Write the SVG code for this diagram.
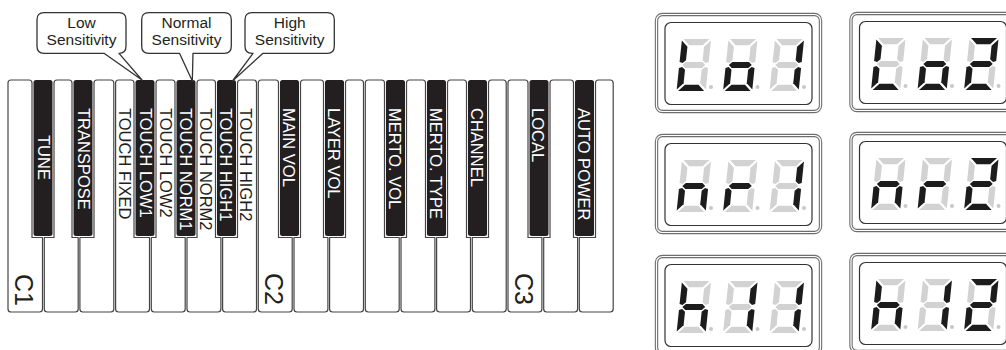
<svg xmlns="http://www.w3.org/2000/svg" xmlns:xlink="http://www.w3.org/1999/xlink" width="1006" height="350" viewBox="0 0 1006 350">
<style>
.wk{fill:#fff;stroke:#444;stroke-width:1.2;stroke-linejoin:round}
.bk{fill:#231f20}
.t{font-family:"Liberation Sans",Arial,Helvetica,sans-serif}
.bt{font-size:16.5px;fill:#fff}
.wt{font-size:16.5px;fill:#231f20}
.oct{font-size:25px;fill:#231f20}
.bub{fill:#fff;stroke:#333;stroke-width:1.3;stroke-linejoin:round}
.bubt{font-size:15.5px;text-anchor:middle;fill:#231f20}
.fo{fill:#fff;stroke:#6e6e6e;stroke-width:3.4}
.fo2{fill:none;stroke:#fff;stroke-width:1.2}
.fi{fill:none;stroke:#333;stroke-width:1.2}
.on{fill:#1c1c1c}
.off{fill:#d2d2d2}
.dp{fill:#c8c8c8}
</style>
<defs>
<path id="sa" d="M1.5,0 H26.5 L20.5,6 H7.5 Z"/>
<path id="sb" d="M28,1.5 L22,7.5 V20.5 L25,23 L28,22 Z"/>
<path id="sc" d="M28,48.5 L22,42.5 V29.5 L25,27 L28,28 Z"/>
<path id="sd" d="M1.5,50 H26.5 L20.5,44 H7.5 Z"/>
<path id="se" d="M0,48.5 L6,42.5 V29.5 L3,27 L0,28 Z"/>
<path id="sf" d="M0,1.5 L6,7.5 V20.5 L3,23 L0,22 Z"/>
<path id="sg" d="M3,25 L6,22 H22 L25,25 L22,28 H6 Z"/>
<g id="chL"><use href="#sa" class="off"/><use href="#sb" class="off"/><use href="#sc" class="off"/><use href="#sd" class="on"/><use href="#se" class="on"/><use href="#sf" class="on"/><use href="#sg" class="off"/></g>
<g id="cho"><use href="#sa" class="off"/><use href="#sb" class="off"/><use href="#sc" class="on"/><use href="#sd" class="on"/><use href="#se" class="on"/><use href="#sf" class="off"/><use href="#sg" class="on"/></g>
<g id="ch1"><use href="#sa" class="off"/><use href="#sb" class="on"/><use href="#sc" class="on"/><use href="#sd" class="off"/><use href="#se" class="off"/><use href="#sf" class="off"/><use href="#sg" class="off"/></g>
<g id="ch2"><use href="#sa" class="on"/><use href="#sb" class="on"/><use href="#sc" class="off"/><use href="#sd" class="on"/><use href="#se" class="on"/><use href="#sf" class="off"/><use href="#sg" class="on"/></g>
<g id="chn"><use href="#sa" class="off"/><use href="#sb" class="off"/><use href="#sc" class="on"/><use href="#sd" class="off"/><use href="#se" class="on"/><use href="#sf" class="off"/><use href="#sg" class="on"/></g>
<g id="chr"><use href="#sa" class="off"/><use href="#sb" class="off"/><use href="#sc" class="off"/><use href="#sd" class="off"/><use href="#se" class="on"/><use href="#sf" class="off"/><use href="#sg" class="on"/></g>
<g id="chh"><use href="#sa" class="off"/><use href="#sb" class="off"/><use href="#sc" class="on"/><use href="#sd" class="off"/><use href="#se" class="on"/><use href="#sf" class="on"/><use href="#sg" class="on"/></g>
<g id="frame">
<rect class="fo" x="1.5" y="1.5" width="164" height="97" rx="6"/>
<rect class="fo2" x="1.5" y="1.5" width="164" height="97" rx="6"/>
<rect class="fi" x="10" y="9.5" width="147" height="82" rx="6"/>
<circle class="dp" cx="56" cy="74" r="2"/>
<circle class="dp" cx="102.5" cy="74" r="2"/>
<circle class="dp" cx="149" cy="74" r="2"/>
</g>
</defs>
<rect width="1006" height="350" fill="#fff"/>

<g id="keyboard">
<g id="white-keys">
<path id="key-C1" class="wk" d="M11,80 H29 Q32,80 32,83 V237.5 H42.5 V309 Q42.5,312 39.5,312 H11 Q8,312 8,309 V83 Q8,80 11,80 Z"/>
<path id="key-D1" class="wk" d="M57,80 H69 Q72,80 72,83 V237.5 H78.2 V309 Q78.2,312 75.2,312 H47.3 Q44.3,312 44.3,309 V237.5 H54 V83 Q54,80 57,80 Z"/>
<path id="key-E1" class="wk" d="M97,80 H110.8 Q113.8,80 113.8,83 V309 Q113.8,312 110.8,312 H82.9 Q79.9,312 79.9,309 V237.5 H94 V83 Q94,80 97,80 Z"/>
<path id="key-F1" class="wk" d="M118.6,80 H131 Q134,80 134,83 V237.5 H149.5 V309 Q149.5,312 146.5,312 H118.6 Q115.6,312 115.6,309 V83 Q115.6,80 118.6,80 Z"/>
<path id="key-G1" class="wk" d="M159,80 H172 Q175,80 175,83 V237.5 H185.2 V309 Q185.2,312 182.2,312 H154.3 Q151.3,312 151.3,309 V237.5 H156 V83 Q156,80 159,80 Z"/>
<path id="key-A1" class="wk" d="M200,80 H212.5 Q215.5,80 215.5,83 V237.5 H220.9 V309 Q220.9,312 217.9,312 H190 Q187,312 187,309 V237.5 H197 V83 Q197,80 200,80 Z"/>
<path id="key-B1" class="wk" d="M240.5,80 H253.5 Q256.5,80 256.5,83 V309 Q256.5,312 253.5,312 H225.6 Q222.6,312 222.6,309 V237.5 H237.5 V83 Q237.5,80 240.5,80 Z"/>
<path id="key-C2" class="wk" d="M261.3,80 H275.5 Q278.5,80 278.5,83 V237.5 H292.2 V309 Q292.2,312 289.2,312 H261.3 Q258.3,312 258.3,309 V83 Q258.3,80 261.3,80 Z"/>
<path id="key-D2" class="wk" d="M303.5,80 H320.5 Q323.5,80 323.5,83 V237.5 H327.9 V309 Q327.9,312 324.9,312 H297 Q294,312 294,309 V237.5 H300.5 V83 Q300.5,80 303.5,80 Z"/>
<path id="key-E2" class="wk" d="M348.5,80 H360.5 Q363.5,80 363.5,83 V309 Q363.5,312 360.5,312 H332.6 Q329.6,312 329.6,309 V237.5 H345.5 V83 Q345.5,80 348.5,80 Z"/>
<path id="key-F2" class="wk" d="M368.3,80 H381.5 Q384.5,80 384.5,83 V237.5 H399.2 V309 Q399.2,312 396.2,312 H368.3 Q365.3,312 365.3,309 V83 Q365.3,80 368.3,80 Z"/>
<path id="key-G2" class="wk" d="M409.5,80 H422.5 Q425.5,80 425.5,83 V237.5 H434.9 V309 Q434.9,312 431.9,312 H404 Q401,312 401,309 V237.5 H406.5 V83 Q406.5,80 409.5,80 Z"/>
<path id="key-A2" class="wk" d="M450.5,80 H463.5 Q466.5,80 466.5,83 V237.5 H470.5 V309 Q470.5,312 467.5,312 H439.6 Q436.6,312 436.6,309 V237.5 H447.5 V83 Q447.5,80 450.5,80 Z"/>
<path id="key-B2" class="wk" d="M491.5,80 H503.2 Q506.2,80 506.2,83 V309 Q506.2,312 503.2,312 H475.3 Q472.3,312 472.3,309 V237.5 H488.5 V83 Q488.5,80 491.5,80 Z"/>
<path id="key-C3" class="wk" d="M511,80 H525 Q528,80 528,83 V237.5 H541.9 V309 Q541.9,312 538.9,312 H511 Q508,312 508,309 V83 Q508,80 511,80 Z"/>
<path id="key-D3" class="wk" d="M553,80 H570.5 Q573.5,80 573.5,83 V237.5 H577.6 V309 Q577.6,312 574.6,312 H546.7 Q543.7,312 543.7,309 V237.5 H550 V83 Q550,80 553,80 Z"/>
<path id="key-E3" class="wk" d="M598.5,80 H610.2 Q613.2,80 613.2,83 V309 Q613.2,312 610.2,312 H582.3 Q579.3,312 579.3,309 V237.5 H595.5 V83 Q595.5,80 598.5,80 Z"/>
</g>
<g id="black-keys">
<rect class="bk" x="33.5" y="80" width="19" height="156" rx="2.5"/>
<rect class="bk" x="73.5" y="80" width="19" height="156" rx="2.5"/>
<rect class="bk" x="135.5" y="80" width="19" height="156" rx="2.5"/>
<rect class="bk" x="176.5" y="80" width="19" height="156" rx="2.5"/>
<rect class="bk" x="217" y="80" width="19" height="156" rx="2.5"/>
<rect class="bk" x="280" y="80" width="19" height="156" rx="2.5"/>
<rect class="bk" x="325" y="80" width="19" height="156" rx="2.5"/>
<rect class="bk" x="386" y="80" width="19" height="156" rx="2.5"/>
<rect class="bk" x="427" y="80" width="19" height="156" rx="2.5"/>
<rect class="bk" x="468" y="80" width="19" height="156" rx="2.5"/>
<rect class="bk" x="529.5" y="80" width="19" height="156" rx="2.5"/>
<rect class="bk" x="575" y="80" width="19" height="156" rx="2.5"/>
</g>
<g id="key-labels" class="t">
<text class="bt" transform="translate(37.5,135) rotate(90)">TUNE</text>
<text class="bt" transform="translate(77.5,108) rotate(90)">TRANSPOSE</text>
<text class="wt" transform="translate(118.8,108) rotate(90)">TOUCH FIXED</text>
<text class="bt" transform="translate(139.5,108) rotate(90)">TOUCH LOW1</text>
<text class="wt" transform="translate(159.5,108) rotate(90)">TOUCH LOW2</text>
<text class="bt" transform="translate(180,108) rotate(90)">TOUCH NORM1</text>
<text class="wt" transform="translate(200,108) rotate(90)">TOUCH NORM2</text>
<text class="bt" transform="translate(220,108) rotate(90)">TOUCH HIGH1</text>
<text class="wt" transform="translate(240.3,108) rotate(90)">TOUCH HIGH2</text>
<text class="bt" transform="translate(283,108) rotate(90)">MAIN VOL</text>
<text class="bt" transform="translate(328,108) rotate(90)">LAYER VOL</text>
<text class="bt" transform="translate(389,108) rotate(90)">MERTO. VOL</text>
<text class="bt" transform="translate(430,108) rotate(90)">MERTO. TYPE</text>
<text class="bt" transform="translate(471,108) rotate(90)">CHANNEL</text>
<text class="bt" transform="translate(532,108) rotate(90)">LOCAL</text>
<text class="bt" transform="translate(577.5,108) rotate(90)">AUTO POWER</text>
<text class="oct" transform="translate(15,274) rotate(90)">C1</text>
<text class="oct" transform="translate(265,273) rotate(90)">C2</text>
<text class="oct" transform="translate(515,273) rotate(90)">C3</text>
</g>
</g>

<g id="connectors"></g>

<g id="callout-low">
<path class="bub" d="M44,12.7 H119 Q126,12.7 126,19.7 V46.3 Q126,53.3 119,53.3 L142,80 L104,53.3 H44 Q37,53.3 37,46.3 V19.7 Q37,12.7 44,12.7 Z"/>
<text class="t bubt" x="81.5" y="28">Low</text>
<text class="t bubt" x="81.5" y="44.5">Sensitivity</text>
</g>
<g id="callout-normal">
<path class="bub" d="M148.7,12.7 H224.3 Q231.3,12.7 231.3,19.7 V46.3 Q231.3,53.3 224.3,53.3 H193 L192.3,81 L179.5,53.3 H148.7 Q141.7,53.3 141.7,46.3 V19.7 Q141.7,12.7 148.7,12.7 Z"/>
<text class="t bubt" x="186.5" y="28">Normal</text>
<text class="t bubt" x="186.5" y="44.5">Sensitivity</text>
</g>
<g id="callout-high">
<path class="bub" d="M252,12.7 H327.3 Q334.3,12.7 334.3,19.7 V46.3 Q334.3,53.3 327.3,53.3 H263 L232.5,81 L253,53.3 H252 Q245,53.3 245,46.3 V19.7 Q245,12.7 252,12.7 Z"/>
<text class="t bubt" x="289.7" y="28">High</text>
<text class="t bubt" x="289.7" y="44.5">Sensitivity</text>
</g>

<g id="display-lo1" transform="translate(655,13)">
<use href="#frame"/>
<use href="#chL" transform="translate(27,26) skewX(-6) scale(1.04)"/>
<use href="#cho" transform="translate(73.5,26) skewX(-6) scale(1.04)"/>
<use href="#ch1" transform="translate(120,26) skewX(-6) scale(1.04)"/>
</g>
<g id="display-lo2" transform="translate(849.5,12)">
<use href="#frame"/>
<use href="#chL" transform="translate(27,26) skewX(-6) scale(1.04)"/>
<use href="#cho" transform="translate(73.5,26) skewX(-6) scale(1.04)"/>
<use href="#ch2" transform="translate(120,26) skewX(-6) scale(1.04)"/>
</g>
<g id="display-nr1" transform="translate(655,134)">
<use href="#frame"/>
<use href="#chn" transform="translate(27,26) skewX(-6) scale(1.04)"/>
<use href="#chr" transform="translate(73.5,26) skewX(-6) scale(1.04)"/>
<use href="#ch1" transform="translate(120,26) skewX(-6) scale(1.04)"/>
</g>
<g id="display-nr2" transform="translate(849.5,132)">
<use href="#frame"/>
<use href="#chn" transform="translate(27,26) skewX(-6) scale(1.04)"/>
<use href="#chr" transform="translate(73.5,26) skewX(-6) scale(1.04)"/>
<use href="#ch2" transform="translate(120,26) skewX(-6) scale(1.04)"/>
</g>
<g id="display-h11" transform="translate(655,255)">
<use href="#frame"/>
<use href="#chh" transform="translate(27,26) skewX(-6) scale(1.04)"/>
<use href="#ch1" transform="translate(73.5,26) skewX(-6) scale(1.04)"/>
<use href="#ch1" transform="translate(120,26) skewX(-6) scale(1.04)"/>
</g>
<g id="display-h12" transform="translate(849.5,253)">
<use href="#frame"/>
<use href="#chh" transform="translate(27,26) skewX(-6) scale(1.04)"/>
<use href="#ch1" transform="translate(73.5,26) skewX(-6) scale(1.04)"/>
<use href="#ch2" transform="translate(120,26) skewX(-6) scale(1.04)"/>
</g>
</svg>
